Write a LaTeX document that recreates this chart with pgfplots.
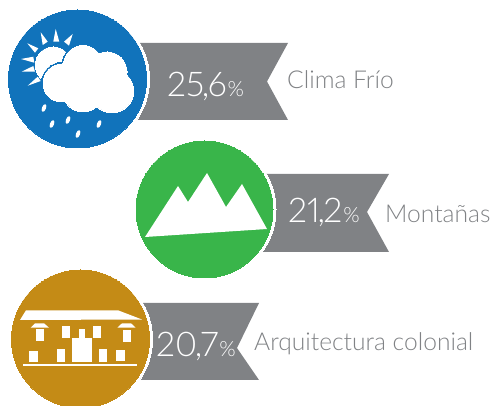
\documentclass[border=0pt]{standalone}
\usepackage{pgfplots}
\usepackage{fontspec}
\pgfplotsset{compat=1.18}
\setmainfont{Lato}[UprightFont=* Light,Numbers=Proportional]
\definecolor{rib}{HTML}{808285}
\definecolor{cblue}{HTML}{1173BB}
\definecolor{cgreen}{HTML}{39B54A}
\definecolor{cgold}{HTML}{C48B16}
\pgfdeclareplotmark{drop}{%
  \pgfpathellipse{\pgfpointorigin}{\pgfqpoint{1.4pt}{3.8pt}}{\pgfqpoint{1.9pt}{-0.7pt}}%
  \pgfusepathqfill}
\pgfplotsset{
  poly/.style={draw=none,fill=#1,mark=none,forget plot},
  disc/.style 2 args={only marks,mark=*,mark size=#1pt,mark options={draw=#2,fill=#2,line width=0pt},forget plot},
}
\newcommand\val[2]{#1\kern-2.5pt,\kern-1.5pt#2\kern1pt\fontsize{21}{21}\selectfont\%}
\begin{document}
\begin{tikzpicture}
\useasboundingbox (0,0) rectangle (496pt,406pt);
\begin{axis}[at={(0pt,0pt)},anchor=south west,scale only axis,width=496pt,height=406pt,
  xmin=0,xmax=496,ymin=0,ymax=406,y dir=reverse,hide axis,clip=true,clip marker paths=true]
% ribbons
\addplot[poly=rib] coordinates {(80,43)(288,43)(267,81.5)(288,120)(80,120)} -- cycle;
\addplot[poly=rib] coordinates {(210,174)(389,174)(367,212)(389,252)(210,252)} -- cycle;
\addplot[poly=rib] coordinates {(85,303)(259,303)(237,348)(259,380)(85,380)} -- cycle;
% white rings
\addplot[disc={72}{white}] coordinates {(77.5,79)};
\addplot[disc={71.5}{white}] coordinates {(204.5,209.5)};
\addplot[disc={72}{white}] coordinates {(80.5,339)};
% discs
\addplot[disc={69}{cblue}] coordinates {(77.5,79)};
\addplot[disc={68.5}{cgreen}] coordinates {(204.5,209.5)};
\addplot[disc={69}{cgold}] coordinates {(80.5,339)};
% sun
\addplot[disc={18}{white}] coordinates {(53.3,65)};
\addplot[poly=white] coordinates {(55.7,29)(53.3,41.7)(59.3,41.7)} -- cycle;
\addplot[poly=white] coordinates {(40.7,32.3)(42.7,45)(47.7,41.7)} -- cycle;
\addplot[poly=white] coordinates {(72.7,34)(64,41.7)(69,45.7)} -- cycle;
\addplot[poly=white] coordinates {(27.3,43.3)(35,52.7)(38.3,48.3)} -- cycle;
\addplot[poly=white] coordinates {(21,59)(33.3,56.7)(34.3,62.7)} -- cycle;
\addplot[poly=white] coordinates {(21.7,71.7)(33.3,66)(35,71.7)} -- cycle;
\addplot[poly=white] coordinates {(27.7,85.7)(37.7,76.7)(40.7,81)} -- cycle;
% cloud outline
\addplot[disc={20.5}{cblue}] coordinates {(62,83)};
\addplot[disc={21}{cblue}] coordinates {(83,65)};
\addplot[disc={21.5}{cblue}] coordinates {(107,72)};
% cloud
\addplot[disc={19}{white}] coordinates {(62,83)};
\addplot[disc={19.5}{white}] coordinates {(83,65)};
\addplot[disc={20}{white}] coordinates {(107,72)};
\addplot[disc={21.7}{white}] coordinates {(112,91)};
\addplot[disc={20}{white}] coordinates {(83,92)};
\addplot[disc={20}{white}] coordinates {(88,78)};
% rain
\addplot[only marks,mark=drop,mark options={fill=white,draw=none},forget plot] coordinates {(44,108)(52,124)(68,120)(78,134)(99,124)};
% mountains
\addplot[poly=white] coordinates {(145,237)(178,186)(188,202)(207,173)(226,207)(242,184)(267,229)} -- cycle;
% building
\addplot[poly=white] coordinates {(20,320)(26,310.3)(118,310.3)(142,319.5)} -- cycle;
\addplot[poly=white] coordinates {(30.7,327.7)(35,323.3)(44,323.3)(49,327.7)} -- cycle;
\addplot[poly=white] coordinates {(117.3,327.7)(122,323.3)(131,323.3)(135.7,327.7)} -- cycle;
\addplot[poly=white] coordinates {(36,329)(44,329)(44,341)(36,341)} -- cycle;
\addplot[poly=white] coordinates {(122.7,330)(130.7,330)(130.7,342)(122.7,342)} -- cycle;
\addplot[poly=white] coordinates {(62.3,326)(70.3,326)(70.3,338)(62.3,338)} -- cycle;
\addplot[poly=white] coordinates {(79.3,328.7)(84.7,328.7)(84.7,338)(79.3,338)} -- cycle;
\addplot[poly=white] coordinates {(93,326)(101,326)(101,338)(93,338)} -- cycle;
\addplot[poly=white] coordinates {(72.3,338)(92.3,338)(92.3,362)(72.3,362)} -- cycle;
\addplot[poly=white] coordinates {(28.7,351.3)(37.7,351.3)(37.7,362)(28.7,362)} -- cycle;
\addplot[poly=white] coordinates {(56.7,349.3)(64.7,349.3)(64.7,362)(56.7,362)} -- cycle;
\addplot[poly=white] coordinates {(98.7,349.3)(106.7,349.3)(106.7,362)(98.7,362)} -- cycle;
\addplot[poly=white] coordinates {(116,350)(125,350)(125,361)(116,361)} -- cycle;
\addplot[poly=white] coordinates {(22.7,364)(136.7,364)(136.7,365.7)(22.7,365.7)} -- cycle;
% values
\node[anchor=base west,inner sep=0,text=white,font=\fontsize{34}{34}\selectfont] at (axis cs:167,97) {\val{25}{6}};
\node[anchor=base west,inner sep=0,text=white,font=\fontsize{34}{34}\selectfont] at (axis cs:288,223) {\val{21}{2}};
\node[anchor=base west,inner sep=0,text=white,font=\fontsize{34}{34}\selectfont] at (axis cs:156,357) {\val{20}{7}};
% labels
\node[anchor=base west,inner sep=0,text=rib,font=\fontsize{24.6}{25}\selectfont] at (axis cs:287,89) {Clima Frío};
\node[anchor=base west,inner sep=0,text=rib,font=\fontsize{24.6}{25}\selectfont] at (axis cs:385,223) {Montañas};
\node[anchor=base west,inner sep=0,text=rib,font=\fontsize{24.6}{25}\selectfont] at (axis cs:254,351) {Arquitectura colonial};
\end{axis}
\end{tikzpicture}
\end{document}
